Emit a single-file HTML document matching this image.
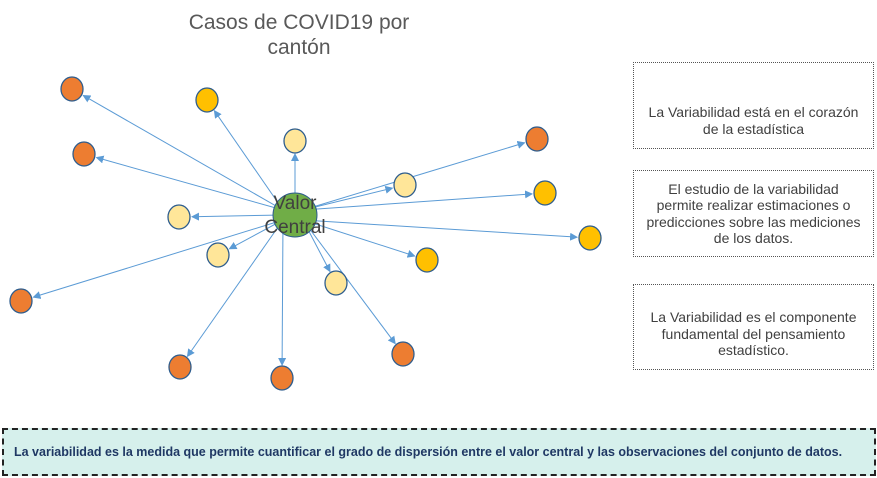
<!DOCTYPE html>
<html><head><meta charset="utf-8"><style>
body{margin:0;width:877px;height:478px;background:#fff;overflow:hidden;position:relative;font-family:"Liberation Sans",sans-serif}
.box{position:absolute;left:633px;width:241px;border:1px dotted #555;display:flex;align-items:center;justify-content:center;text-align:center;font-size:14px;line-height:16.5px;color:#404040;box-sizing:border-box}
</style></head><body>
<svg id="s" width="877" height="478" style="position:absolute;left:0;top:0">
<defs><marker id="a" markerWidth="8" markerHeight="8" refX="7" refY="4" orient="auto" markerUnits="userSpaceOnUse"><path d="M0,0 L8,4 L0,8z" fill="#5b9bd5"/></marker></defs>
<text x="299" y="29" font-size="21" fill="#595959" text-anchor="middle" font-family="Liberation Sans">Casos de COVID19 por</text>
<text x="299" y="54" font-size="21" fill="#595959" text-anchor="middle" font-family="Liberation Sans">cantón</text>
<g id="g"></g>
</svg>
<div class="box" style="top:62px;height:87px;padding-top:30px">La Variabilidad está en el corazón<br>de la estadística</div>
<div class="box" style="top:170px;height:87px">El estudio de la variabilidad<br>permite realizar estimaciones o<br>predicciones sobre las mediciones<br>de los datos.</div>
<div class="box" style="top:284px;height:86px;padding-top:14px">La Variabilidad es el componente<br>fundamental del pensamiento<br>estadístico.</div>
<div style="position:absolute;left:2px;top:428px;width:874px;height:48px;box-sizing:border-box;border:2px dashed #222;background:#d6f0ec;color:#1f3864;font-weight:bold;font-size:12.5px;padding-left:10px;line-height:44px;white-space:nowrap">La variabilidad es la medida que permite cuantificar el grado de dispersión entre el valor central y las observaciones del conjunto de datos.</div>
<script>
var ns="http://www.w3.org/2000/svg",g=document.getElementById('g');
var cx=295,cy=215;
var N=[[72,89,'#ed7d31'],[84,154,'#ed7d31'],[21,301,'#ed7d31'],[180,367,'#ed7d31'],[282,378,'#ed7d31'],[403,354,'#ed7d31'],[537,139,'#ed7d31'],
[207,100,'#ffc000'],[545,193,'#ffc000'],[590,238,'#ffc000'],[427,260,'#ffc000'],
[295,141,'#ffe699'],[405,185,'#ffe699'],[179,217,'#ffe699'],[218,255,'#ffe699'],[336,283,'#ffe699']];
function el(t,a){var e=document.createElementNS(ns,t);for(var k in a)e.setAttribute(k,a[k]);g.appendChild(e);return e}
N.forEach(function(n){var sx=cx+(n[0]<cx?-12:n[0]>cx+5?8:0),sy=cy-(n[1]<cy?5:0)+(n[1]>cy+20?5:0);
 if(n[0]==295){sx=295;sy=193}
 var dx=n[0]-sx,dy=n[1]-sy,d=Math.hypot(dx,dy),r=13;
 el('line',{x1:sx,y1:sy,x2:n[0]-dx/d*r,y2:n[1]-dy/d*r,stroke:'#5b9bd5','stroke-width':1,'marker-end':'url(#a)'});});
N.forEach(function(n){el('ellipse',{cx:n[0],cy:n[1],rx:11,ry:12,fill:n[2],stroke:'#2e5d8e','stroke-width':1.3});});
el('circle',{cx:cx,cy:cy,r:22,fill:'#70ad47',stroke:'#2e5d8e','stroke-width':1});
var t1=el('text',{x:cx,y:209,'font-size':19,fill:'#404040','text-anchor':'middle','font-family':'Liberation Sans'});t1.textContent='Valor';
var t2=el('text',{x:cx,y:233,'font-size':19,fill:'#404040','text-anchor':'middle','font-family':'Liberation Sans'});t2.textContent='Central';
</script>
</body></html>
